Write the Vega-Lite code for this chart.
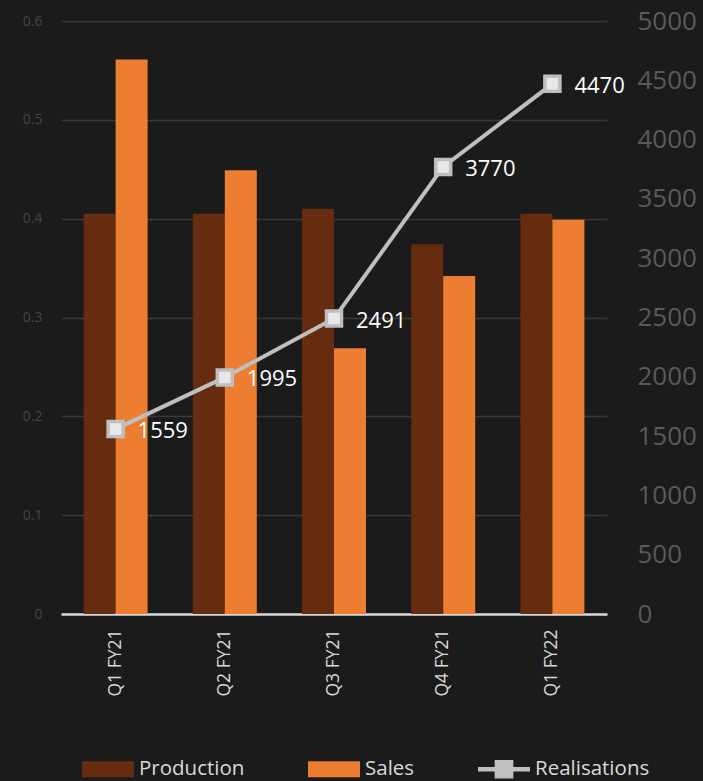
{
  "$schema": "https://vega.github.io/schema/vega-lite/v6.json",
  "autosize": {"type": "none"},
  "padding": {"left": 61, "top": 21, "right": 96, "bottom": 167},
  "width": 546,
  "height": 593,
  "background": "#1b1b1b",
  "config": {
    "font": "Open Sans",
    "view": {"stroke": null}
  },
  "datasets": {
    "bars": [
      {"quarter": "Q1 FY21", "series": "Production", "value": 0.405},
      {"quarter": "Q1 FY21", "series": "Sales", "value": 0.561},
      {"quarter": "Q2 FY21", "series": "Production", "value": 0.405},
      {"quarter": "Q2 FY21", "series": "Sales", "value": 0.449},
      {"quarter": "Q3 FY21", "series": "Production", "value": 0.41},
      {"quarter": "Q3 FY21", "series": "Sales", "value": 0.269},
      {"quarter": "Q4 FY21", "series": "Production", "value": 0.374},
      {"quarter": "Q4 FY21", "series": "Sales", "value": 0.342},
      {"quarter": "Q1 FY22", "series": "Production", "value": 0.405},
      {"quarter": "Q1 FY22", "series": "Sales", "value": 0.399}
    ],
    "line": [
      {"quarter": "Q1 FY21", "Realisations": 1559},
      {"quarter": "Q2 FY21", "Realisations": 1995},
      {"quarter": "Q3 FY21", "Realisations": 2491},
      {"quarter": "Q4 FY21", "Realisations": 3770},
      {"quarter": "Q1 FY22", "Realisations": 4470}
    ]
  },
  "layer": [
    {
      "data": {"name": "bars"},
      "mark": {"type": "bar"},
      "encoding": {
        "x": {
          "field": "quarter", "type": "nominal", "sort": null,
          "scale": {"paddingInner": 0.414, "paddingOuter": 0.207},
          "axis": {
            "title": null, "labelAngle": -90, "labelFontSize": 17.5, "labelColor": "#d9d9d9",
            "ticks": false, "labelPadding": 15, "domainColor": "#d9d9d9", "domainWidth": 2.5
          }
        },
        "xOffset": {
          "field": "series", "type": "nominal", "sort": ["Production", "Sales"],
          "scale": {"paddingInner": 0, "paddingOuter": 0}
        },
        "y": {
          "field": "value", "type": "quantitative",
          "scale": {"domain": [0, 0.6], "nice": false},
          "axis": {
            "title": null, "values": [0, 0.1, 0.2, 0.3, 0.4, 0.5, 0.6], "format": "~g",
            "labelFontSize": 14, "labelColor": "#444444", "labelPadding": 19,
            "ticks": false, "domain": false, "grid": true, "gridColor": "#383838", "gridWidth": 1.5
          }
        },
        "color": {
          "field": "series", "type": "nominal",
          "scale": {"domain": ["Production", "Sales", "Realisations"], "range": ["#662c10", "#ed7d31", "#bfbfbf"]},
          "legend": {
            "title": null, "orient": "none", "legendX": 21, "legendY": 722,
            "direction": "horizontal", "symbolSize": 2704,
            "symbolType": "M-1,-0.31H1V0.31H-1Z", "symbolStrokeWidth": 0,
            "labelFontSize": 20.5, "labelColor": "#d9d9d9", "labelOffset": 5,
            "columnPadding": 63,
            "encode": {
              "symbols": {
                "update": {
                  "shape": [
                    {"test": "datum.value === 'Realisations'", "value": "M-1,-0.09H-0.36V-0.36H0.36V-0.09H1V0.09H0.36V0.36H-0.36V0.09H-1Z"},
                    {"value": "M-1,-0.31H1V0.31H-1Z"}
                  ]
                }
              }
            }
          }
        }
      }
    },
    {
      "data": {"name": "line"},
      "encoding": {
        "x": {"field": "quarter", "type": "nominal", "sort": null},
        "y": {
          "field": "Realisations", "type": "quantitative",
          "scale": {"domain": [0, 5000], "nice": false},
          "axis": {
            "orient": "right", "title": null,
            "values": [0, 500, 1000, 1500, 2000, 2500, 3000, 3500, 4000, 4500, 5000], "format": "d",
            "labelFontSize": 26, "labelColor": "#5a5a5a", "labelPadding": 30,
            "ticks": false, "domain": false, "grid": false
          }
        }
      },
      "layer": [
        {"mark": {"type": "line", "color": "#bfbfbf", "strokeWidth": 4}},
        {"mark": {"type": "point", "shape": "square", "size": 225, "filled": true, "fill": "#e8e8e8", "stroke": "#bfbfbf", "strokeWidth": 3.5, "opacity": 1}},
        {
          "mark": {"type": "text", "align": "left", "baseline": "middle", "dx": 22, "dy": 2, "fontSize": 22, "color": "#ffffff"},
          "encoding": {"text": {"field": "Realisations", "type": "quantitative", "format": "d"}}
        }
      ]
    }
  ],
  "resolve": {"scale": {"y": "independent"}}
}
